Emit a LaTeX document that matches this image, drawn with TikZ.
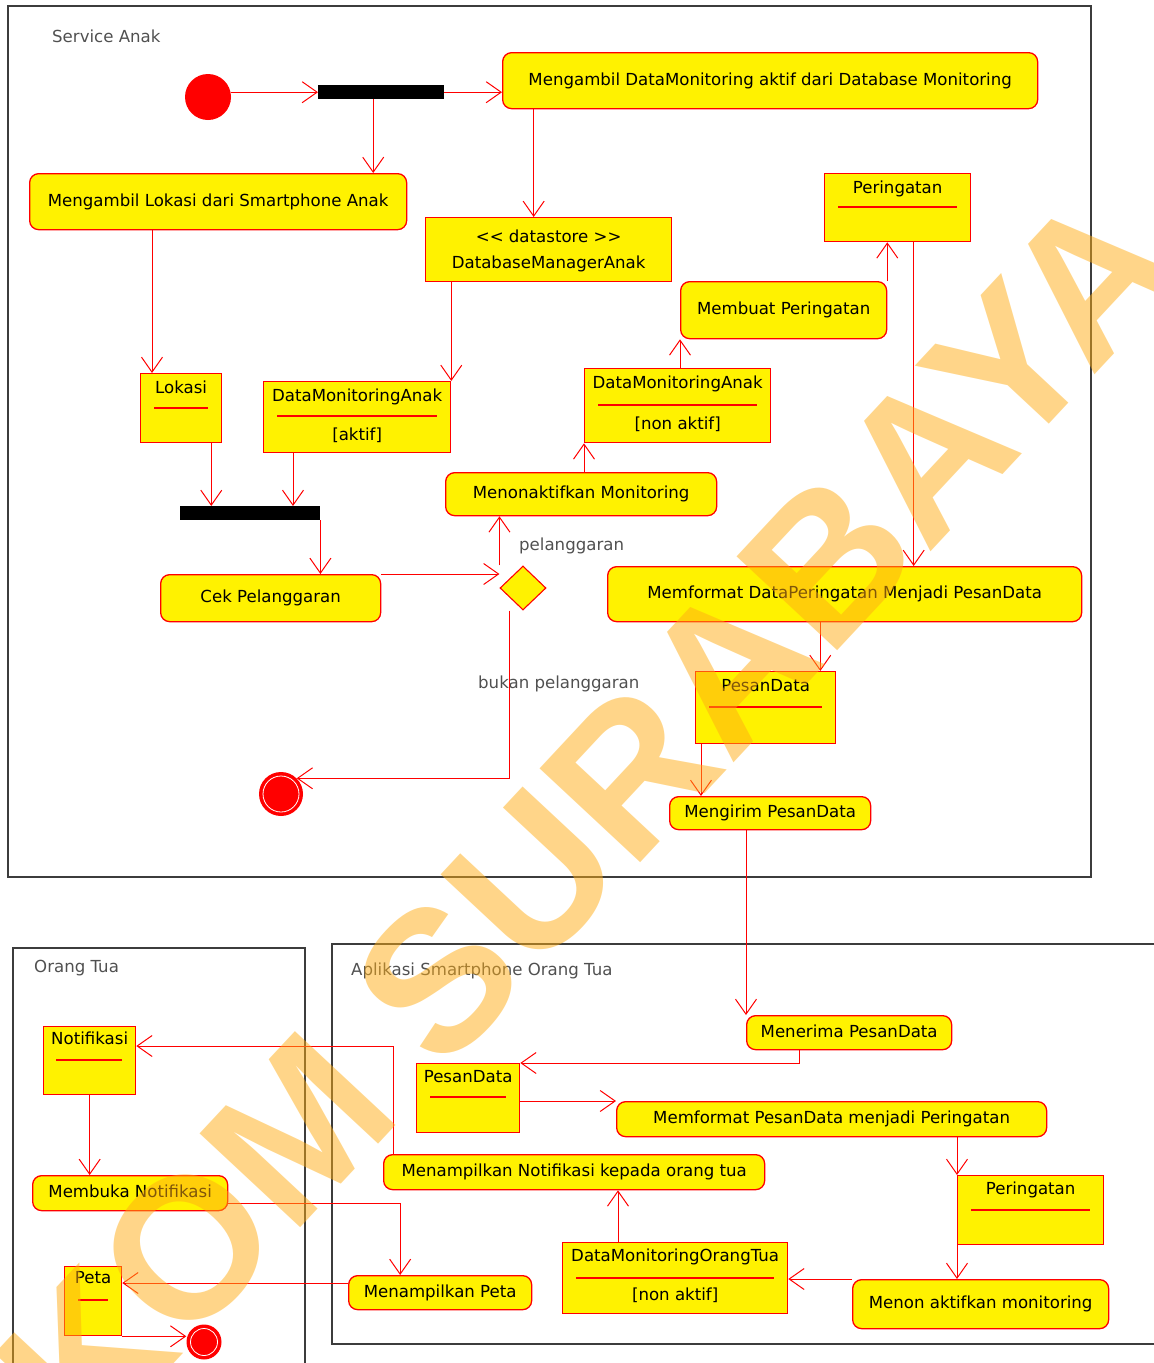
\documentclass[tikz,border=0pt]{standalone}
\usepackage{fontspec}
\setmainfont{DejaVu Sans}
\newfontfamily\umlfont{DejaVu Sans}
\newfontfamily\wmfont{Liberation Sans}
\usetikzlibrary{arrows.meta,shapes.geometric}

\definecolor{framegray}{RGB}{60,60,60}
\definecolor{labelgray}{RGB}{80,80,80}
\definecolor{wmorange}{RGB}{255,172,20}

\tikzset{
  txt/.style={font=\umlfont\fontsize{16.6}{26}\selectfont, inner sep=0pt, text height=12.5pt, text depth=3.5pt},
  action/.style={txt, rectangle, rounded corners=9pt, draw=red, fill=yellow, line width=1.3pt, anchor=north west},
  objbox/.style={rectangle, draw=red, fill=yellow, line width=1.3pt, inner sep=0pt, anchor=north west},
  sepline/.style={draw=red, line width=1.3pt},
  barnode/.style={fill=black, inner sep=0pt, anchor=north west},
  startnode/.style={circle, fill=red, inner sep=0pt, minimum size=46pt},
  endnode/.style={circle, fill=red, inner sep=0pt},
  lane/.style={draw=framegray, line width=1.6pt, inner sep=0pt, anchor=north west},
  lanetitle/.style={txt, text=labelgray, anchor=west},
  guard/.style={txt, text=labelgray, anchor=west},
  flow/.style={draw=red, line width=1pt, -{Straight Barb[length=15pt,width=21pt,line width=1pt]}},
  wm/.style={font=\wmfont\bfseries\fontsize{200}{200}\selectfont, text=wmorange, opacity=0.5, rotate=47},
}

\begin{document}
\begin{tikzpicture}[x=1pt,y=-1pt]
\useasboundingbox (0,0) rectangle (1154,1363);

% partitions
\node[lane, minimum width=1083pt, minimum height=871pt] (laneAnak) at (7,5) {};
\node[lane, minimum width=292pt, minimum height=440pt] (laneOrtu) at (12,947) {};
\node[lane, minimum width=840pt, minimum height=400pt] (laneApp) at (331,943) {};
\node[lanetitle] (tAnak) at (52,38) {Service Anak};
\node[lanetitle] (tOrtu) at (34,968) {Orang Tua};
\node[lanetitle] (tApp) at (351,971) {Aplikasi Smartphone Orang Tua};

% service anak
\node[startnode] (start) at (208,97) {};
\node[barnode, minimum width=126pt, minimum height=14pt] (fork1) at (318,85) {};
\node[action, minimum width=535pt, minimum height=56pt] (ambilDM) at (502,52) {Mengambil DataMonitoring aktif dari Database Monitoring};
\node[action, minimum width=377pt, minimum height=56pt] (ambilLokasi) at (29,173) {Mengambil Lokasi dari Smartphone Anak};

\node[objbox, minimum width=246pt, minimum height=64pt] (store) at (425,217) {};
\node[txt] (storeA) at ([yshift=-21pt]store.north) {<< datastore >>};
\node[txt] (storeB) at ([yshift=-47pt]store.north) {DatabaseManagerAnak};

\node[objbox, minimum width=81pt, minimum height=69pt] (lokasi) at (140,373) {};
\node[txt] (lokasiName) at ([yshift=-16pt]lokasi.north) {Lokasi};
\draw[sepline] ([xshift=14pt,yshift=-35pt]lokasi.north west) -- ([xshift=-14pt,yshift=-35pt]lokasi.north east);

\node[objbox, minimum width=187pt, minimum height=71pt] (dmaAktif) at (263,381) {};
\node[txt] (dmaAktifName) at ([yshift=-16pt]dmaAktif.north) {DataMonitoringAnak};
\draw[sepline] ([xshift=14pt,yshift=-35pt]dmaAktif.north west) -- ([xshift=-14pt,yshift=-35pt]dmaAktif.north east);
\node[txt] (dmaAktifState) at ([yshift=-55pt]dmaAktif.north) {[aktif]};

\node[barnode, minimum width=140pt, minimum height=14pt] (fork2) at (180,506) {};
\node[action, minimum width=220pt, minimum height=47pt] (cek) at (160,574) {Cek Pelanggaran};
\node[diamond, draw=red, fill=yellow, line width=1.1pt, inner sep=0pt, minimum width=46pt, minimum height=44pt] (decide) at (523,588) {};
\node[guard] (gYes) at (519,546) {pelanggaran};
\node[guard] (gNo) at (478,684) {bukan pelanggaran};
\node[endnode, minimum size=44pt] (final1) at (281,794) {};
\draw[white, line width=0.8pt] (final1.center) circle (18pt);

\node[action, minimum width=271pt, minimum height=43pt] (nonaktif) at (445,472) {Menonaktifkan Monitoring};
\node[objbox, minimum width=186pt, minimum height=74pt] (dmaNon) at (584,368) {};
\node[txt] (dmaNonName) at ([yshift=-16pt]dmaNon.north) {DataMonitoringAnak};
\draw[sepline] ([xshift=14pt,yshift=-37pt]dmaNon.north west) -- ([xshift=-14pt,yshift=-37pt]dmaNon.north east);
\node[txt] (dmaNonState) at ([yshift=-57pt]dmaNon.north) {[non aktif]};

\node[action, minimum width=206pt, minimum height=57pt] (membuat) at (680,281) {Membuat Peringatan};
\node[objbox, minimum width=146pt, minimum height=68pt] (warn1) at (824,173) {};
\node[txt] (warn1Name) at ([yshift=-16pt]warn1.north) {Peringatan};
\draw[sepline] ([xshift=14pt,yshift=-34pt]warn1.north west) -- ([xshift=-14pt,yshift=-34pt]warn1.north east);

\node[action, minimum width=474pt, minimum height=55pt] (formatDP) at (607,566) {Memformat DataPeringatan Menjadi PesanData};
\node[objbox, minimum width=140pt, minimum height=72pt] (pesan1) at (695,671) {};
\node[txt] (pesan1Name) at ([yshift=-16pt]pesan1.north) {PesanData};
\draw[sepline] ([xshift=14pt,yshift=-36pt]pesan1.north west) -- ([xshift=-14pt,yshift=-36pt]pesan1.north east);
\node[action, minimum width=201pt, minimum height=33pt] (kirim) at (669,796) {Mengirim PesanData};

% aplikasi smartphone orang tua
\node[action, minimum width=205pt, minimum height=34pt] (menerima) at (746,1015) {Menerima PesanData};
\node[objbox, minimum width=103pt, minimum height=69pt] (pesan2) at (416,1063) {};
\node[txt] (pesan2Name) at ([yshift=-15pt]pesan2.north) {PesanData};
\draw[sepline] ([xshift=14pt,yshift=-34pt]pesan2.north west) -- ([xshift=-14pt,yshift=-34pt]pesan2.north east);
\node[action, minimum width=430pt, minimum height=35pt] (formatPD) at (616,1101) {Memformat PesanData menjadi Peringatan};
\node[action, minimum width=381pt, minimum height=35pt] (tampilNotif) at (383,1154) {Menampilkan Notifikasi kepada orang tua};
\node[objbox, minimum width=146pt, minimum height=69pt] (warn2) at (957,1175) {};
\node[txt] (warn2Name) at ([yshift=-15pt]warn2.north) {Peringatan};
\draw[sepline] ([xshift=14pt,yshift=-35pt]warn2.north west) -- ([xshift=-14pt,yshift=-35pt]warn2.north east);
\node[action, minimum width=256pt, minimum height=49pt] (menon) at (852,1279) {Menon aktifkan monitoring};
\node[objbox, minimum width=225pt, minimum height=71pt] (dmot) at (562,1242) {};
\node[txt] (dmotName) at ([yshift=-15pt]dmot.north) {DataMonitoringOrangTua};
\draw[sepline] ([xshift=14pt,yshift=-36pt]dmot.north west) -- ([xshift=-14pt,yshift=-36pt]dmot.north east);
\node[txt] (dmotState) at ([yshift=-54pt]dmot.north) {[non aktif]};
\node[action, minimum width=183pt, minimum height=34pt] (tampilPeta) at (348,1275) {Menampilkan Peta};

% orang tua
\node[objbox, minimum width=92pt, minimum height=68pt] (notif) at (43,1026) {};
\node[txt] (notifName) at ([yshift=-14pt]notif.north) {Notifikasi};
\draw[sepline] ([xshift=13pt,yshift=-34pt]notif.north west) -- ([xshift=-14pt,yshift=-34pt]notif.north east);
\node[action, minimum width=195pt, minimum height=35pt] (membuka) at (32,1175) {Membuka Notifikasi};
\node[objbox, minimum width=57pt, minimum height=69pt] (peta) at (64,1266) {};
\node[txt] (petaName) at ([yshift=-13pt]peta.north) {Peta};
\draw[sepline] ([xshift=14pt,yshift=-34pt]peta.north west) -- ([xshift=-14pt,yshift=-34pt]peta.north east);
\node[endnode, minimum size=35pt] (final2) at (204,1342) {};
\draw[white, line width=0.8pt] (final2.center) circle (13.5pt);

% alur
\draw[flow] (start.east |- fork1.west) -- (fork1.west);
\draw[flow] (fork1.east) -- (fork1.east -| ambilDM.west);
\coordinate (c1) at ([xshift=-8pt]fork1.south);
\draw[flow] (c1) -- (c1 |- ambilLokasi.north);
\coordinate (c2) at ([xshift=-15pt]store.north);
\draw[flow] (c2 |- ambilDM.south) -- (c2);
\draw[flow] (dmaAktif.north east |- store.south) -- (dmaAktif.north east);
\coordinate (c3) at ([xshift=12pt]lokasi.north west);
\draw[flow] (c3 |- ambilLokasi.south) -- (c3);
\coordinate (c4) at ([xshift=-11pt]lokasi.south east);
\draw[flow] (c4) -- (c4 |- fork2.north);
\coordinate (c5) at ([xshift=30pt]dmaAktif.south west);
\draw[flow] (c5) -- (c5 |- fork2.north);
\draw[flow] (fork2.south east) -- (fork2.south east |- cek.north);
\draw[flow] (cek.north east) -- (cek.north east -| decide.west);
\draw[flow] (decide.north -| decide.west) -- (decide.west |- nonaktif.south);
\coordinate (c6) at ([xshift=-14pt]decide.south);
\draw[flow] (c6) |- (final1.north east);
\draw[flow] (dmaNon.south west |- nonaktif.north) -- (dmaNon.south west);
\draw[flow] (membuat.south west |- dmaNon.north) -- (membuat.south west);
\draw[flow] (membuat.north east) -- (membuat.north east |- warn1.south);
\coordinate (c7) at ([xshift=16pt]warn1.south);
\draw[flow] (c7) -- (c7 |- formatDP.north);
\coordinate (c8) at ([xshift=-16pt]pesan1.north east);
\draw[flow] (c8 |- formatDP.south) -- (c8);
\coordinate (c9) at ([xshift=6pt]pesan1.south west);
\draw[flow] (c9) -- (c9 |- kirim.north);
\draw[flow] (menerima.north west |- kirim.south) -- (menerima.north west);
\coordinate (c10) at ([xshift=-50pt]menerima.south);
\draw[flow] (c10) |- (pesan2.north east);
\draw[flow] (pesan2.east |- formatPD.north west) -- (formatPD.north west);
\draw[flow] (warn2.north west |- formatPD.south) -- (warn2.north west);
\draw[flow] (warn2.south west) -- (warn2.south west |- menon.north);
\draw[flow] (menon.north west) -- (menon.north west -| dmot.east);
\coordinate (c11) at ([xshift=56pt]dmot.north west);
\draw[flow] (c11) -- (c11 |- tampilNotif.south);
\coordinate (c12) at ([xshift=10pt]tampilNotif.north west);
\coordinate (c13) at ([yshift=-20pt]notif.north east);
\draw[flow] (c12) |- (c13);
\draw[flow] (notif.south) -- (notif.south |- membuka.north);
\coordinate (c14) at ([yshift=-10pt]membuka.east);
\coordinate (c15) at ([xshift=-40pt]tampilPeta.north);
\draw[flow] (c14) -| (c15);
\coordinate (c16) at ([yshift=-17pt]peta.north east);
\draw[flow] (tampilPeta.west |- c16) -- (c16);
\draw[flow] (peta.south east) -- (peta.south east -| final2.west);

% watermark
\node[wm] (wmark) at (482,932) {STIKOM SURABAYA};
\end{tikzpicture}
\end{document}
